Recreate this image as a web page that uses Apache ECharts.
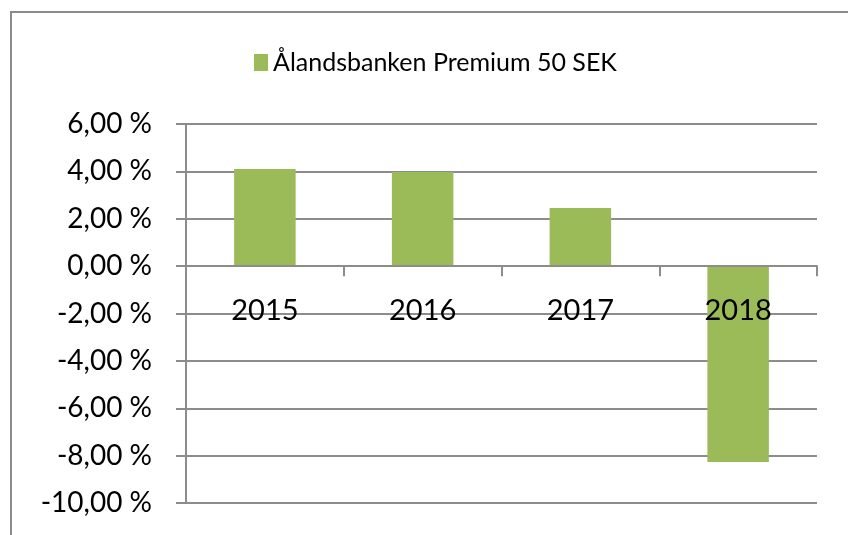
<!DOCTYPE html>
<html>
<head>
<meta charset="utf-8">
<script src="https://cdn.jsdelivr.net/npm/echarts@6/dist/echarts.min.js"></script>
<style>
  html, body { margin: 0; padding: 0; background: #fff; }
  #chart { width: 848px; height: 535px; }
</style>
</head>
<body>
<div id="chart"></div>
<script>
// data (percent)
const years = ['2015', '2016', '2017', '2018'];
const returns = [4.1, 3.97, 2.45, -8.27];
const seriesName = 'Ålandsbanken Premium 50 SEK';
const yMin = -10, yMax = 6, yStep = 2;

const font = 'Lato, "Noto Sans", sans-serif';
const gray = '#8c8c8c';

// plot box in px
const gridTop = 124, gridBottom = 32, gridLeft = 186, gridRight = 31;
const plotH = 535 - gridTop - gridBottom;
// move the category axis up onto the zero line
const zeroOffset = -plotH * (0 - yMin) / (yMax - yMin);

const myChart = echarts.init(document.getElementById('chart'));

const option = {
  animation: false,
  graphic: [{
    type: 'rect',
    shape: {x: 11, y: 12, width: 900, height: 600},
    style: {fill: 'none', stroke: gray, lineWidth: 2},
    silent: true,
  }],
  legend: {
    left: 249,
    top: 45,
    itemWidth: 14,
    itemHeight: 17,
    itemGap: 6,
    icon: 'rect',
    textStyle: {fontFamily: font, fontSize: 25, color: '#000'},
    data: [seriesName],
  },
  grid: {
    left: gridLeft,
    right: gridRight,
    top: gridTop,
    bottom: gridBottom,
    containLabel: false,
    outerBoundsMode: 'none',
  },
  xAxis: {
    type: 'category',
    data: years,
    position: 'bottom',
    offset: zeroOffset,
    axisLine: {onZero: false, lineStyle: {color: gray, width: 2}},
    axisTick: {show: true, length: 10, lineStyle: {color: gray, width: 2}},
    axisLabel: {
      fontFamily: font,
      fontSize: 29,
      color: '#000',
      margin: 30,
    },
    z: 10,
  },
  yAxis: {
    type: 'value',
    min: yMin,
    max: yMax,
    interval: yStep,
    axisLine: {show: true, lineStyle: {color: gray, width: 2}},
    axisTick: {show: true, length: 10, lineStyle: {color: gray, width: 2}},
    splitLine: {lineStyle: {color: gray, width: 2}},
    axisLabel: {
      fontFamily: font,
      fontSize: 28,
      color: '#000',
      margin: 34,
      formatter: v => v.toFixed(2).replace('.', ',') + ' %',
    },
  },
  series: [{
    name: seriesName,
    type: 'bar',
    data: returns,
    barWidth: '39%',
    itemStyle: {color: '#9bbb59'},
    z: 2,
  }],
};

myChart.setOption(option);
</script>
</body>
</html>
